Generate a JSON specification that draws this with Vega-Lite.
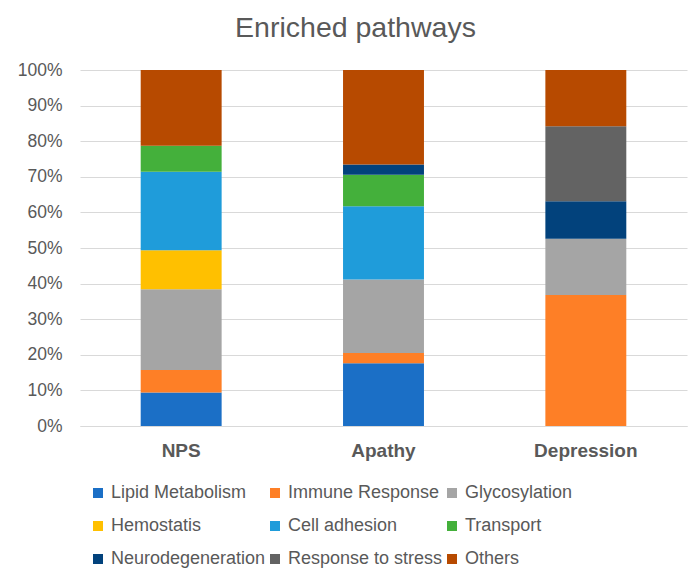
{
  "$schema": "https://vega.github.io/schema/vega-lite/v6.json",
  "description": "Enriched pathways per group, 100% stacked bars.",
  "autosize": {"type": "none"},
  "width": 607,
  "height": 356,
  "padding": {"left": 80, "top": 70, "right": 13, "bottom": 153},
  "background": "white",
  "title": {
    "text": "Enriched pathways",
    "font": "Liberation Sans",
    "fontSize": 28.5,
    "fontWeight": "normal",
    "color": "#595959",
    "anchor": "middle",
    "dx": -28,
    "offset": 19
  },
  "config": {
    "view": {"stroke": null},
    "font": "Liberation Sans",
    "axis": {"labelFont": "Liberation Sans", "labelColor": "#595959"},
    "legend": {"labelFont": "Liberation Sans"}
  },
  "data": {
    "values": [
      {"group": "NPS", "pathway": "Lipid Metabolism", "idx": 1, "value": 9.4},
      {"group": "NPS", "pathway": "Immune Response", "idx": 2, "value": 6.3},
      {"group": "NPS", "pathway": "Glycosylation", "idx": 3, "value": 22.7},
      {"group": "NPS", "pathway": "Hemostatis", "idx": 4, "value": 11.0},
      {"group": "NPS", "pathway": "Cell adhesion", "idx": 5, "value": 22.0},
      {"group": "NPS", "pathway": "Transport", "idx": 6, "value": 7.3},
      {"group": "NPS", "pathway": "Others", "idx": 9, "value": 21.3},
      {"group": "Apathy", "pathway": "Lipid Metabolism", "idx": 1, "value": 17.6},
      {"group": "Apathy", "pathway": "Immune Response", "idx": 2, "value": 2.9},
      {"group": "Apathy", "pathway": "Glycosylation", "idx": 3, "value": 20.6},
      {"group": "Apathy", "pathway": "Cell adhesion", "idx": 5, "value": 20.6},
      {"group": "Apathy", "pathway": "Transport", "idx": 6, "value": 8.8},
      {"group": "Apathy", "pathway": "Neurodegeneration", "idx": 7, "value": 2.9},
      {"group": "Apathy", "pathway": "Others", "idx": 9, "value": 26.5},
      {"group": "Depression", "pathway": "Immune Response", "idx": 2, "value": 36.8},
      {"group": "Depression", "pathway": "Glycosylation", "idx": 3, "value": 15.8},
      {"group": "Depression", "pathway": "Neurodegeneration", "idx": 7, "value": 10.5},
      {"group": "Depression", "pathway": "Response to stress", "idx": 8, "value": 21.1},
      {"group": "Depression", "pathway": "Others", "idx": 9, "value": 15.8}
    ]
  },
  "mark": {"type": "bar"},
  "encoding": {
    "x": {
      "field": "group",
      "type": "nominal",
      "sort": ["NPS", "Apathy", "Depression"],
      "scale": {"paddingInner": 0.6, "paddingOuter": 0.3},
      "axis": {
        "title": null,
        "labelAngle": 0,
        "labelFontSize": 19,
        "labelFontWeight": "bold",
        "labelPadding": 15,
        "ticks": false,
        "domain": true,
        "domainColor": "#D9D9D9"
      }
    },
    "y": {
      "field": "value",
      "type": "quantitative",
      "stack": "normalize",
      "scale": {"domain": [0, 1]},
      "axis": {
        "title": null,
        "format": ".0%",
        "values": [0, 0.1, 0.2, 0.3, 0.4, 0.5, 0.6, 0.7, 0.8, 0.9, 1],
        "labelFontSize": 17.5,
        "labelPadding": 18,
        "ticks": false,
        "domain": false,
        "grid": true,
        "gridColor": "#D9D9D9",
        "gridWidth": 1
      }
    },
    "color": {
      "field": "pathway",
      "type": "nominal",
      "scale": {
        "domain": ["Lipid Metabolism", "Immune Response", "Glycosylation", "Hemostatis", "Cell adhesion", "Transport", "Neurodegeneration", "Response to stress", "Others"],
        "range": ["#1B6FC6", "#FE7F26", "#A5A5A5", "#FFC000", "#1F9CDA", "#44B03B", "#02427C", "#636363", "#B74A00"]
      },
      "legend": {
        "title": null,
        "orient": "none",
        "direction": "horizontal",
        "legendX": 9,
        "legendY": 414,
        "columns": 3,
        "columnPadding": 0,
        "rowPadding": 15,
        "symbolType": "square",
        "symbolSize": 100,
        "symbolStrokeWidth": 0,
        "symbolOffset": 0,
        "labelOffset": 4,
        "labelFontSize": 18,
        "labelColor": "#595959",
        "labelLimit": 300
      }
    },
    "order": {"field": "idx", "type": "quantitative", "sort": "ascending"},
    "tooltip": [
      {"field": "group", "type": "nominal"},
      {"field": "pathway", "type": "nominal"},
      {"field": "value", "type": "quantitative"}
    ]
  }
}
